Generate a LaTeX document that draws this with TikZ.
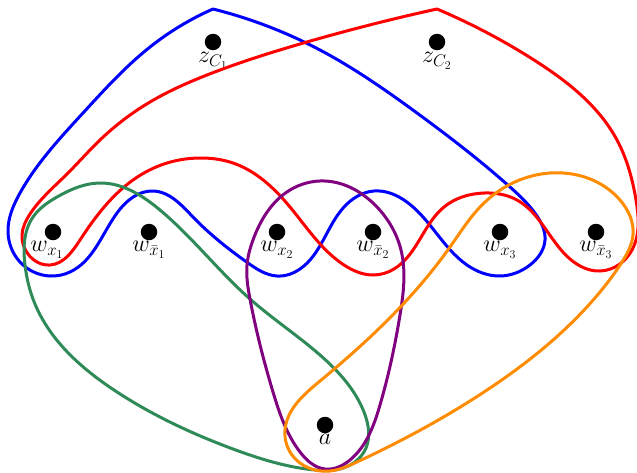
\RequirePackage{fix-cm}
\documentclass[tikz,border=0pt]{standalone}
\usetikzlibrary{positioning,hobby}
\definecolor{hgreen}{RGB}{46,139,87}
\definecolor{hpurple}{RGB}{128,0,128}
\definecolor{horange}{RGB}{255,140,0}
\tikzset{
  dot/.style={circle,fill=black,inner sep=0pt,minimum size=16.5pt},
  lab/.style={inner sep=0pt,font=\fontsize{24}{28}\selectfont,anchor=north},
  edge/.style={line width=3pt,line join=round,line cap=round}
}
\begin{document}
\begin{tikzpicture}[x=1pt,y=-1pt]
\useasboundingbox (0,0) rectangle (637,472);
% vertices
\node[dot] (zc1) at (213,42) {};
\node[dot] (zc2) at (437,42) {};
\node[dot] (wx1) at (53,232) {};
\node[dot] (wnx1) at (149,232) {};
\node[dot] (wx2) at (277,232) {};
\node[dot] (wnx2) at (373,232) {};
\node[dot] (wx3) at (500,232) {};
\node[dot] (wnx3) at (596,232) {};
\node[dot] (a) at (325,425) {};
% labels
\node[lab] (lzc1) at ([yshift=-2pt]zc1.south) {$z_{C_1}$};
\node[lab] (lzc2) at ([yshift=-2pt]zc2.south) {$z_{C_2}$};
\node[lab] (lwx1) at ([xshift=-6pt,yshift=-1pt]wx1.south) {$w_{x_1}$};
\node[lab] (lwnx1) at ([yshift=-1pt]wnx1.south) {$w_{\bar{x}_1}$};
\node[lab] (lwx2) at ([yshift=-1pt]wx2.south) {$w_{x_2}$};
\node[lab] (lwnx2) at ([yshift=-1pt]wnx2.south) {$w_{\bar{x}_2}$};
\node[lab] (lwx3) at ([yshift=-1pt]wx3.south) {$w_{x_3}$};
\node[lab] (lwnx3) at ([yshift=-1pt]wnx3.south) {$w_{\bar{x}_3}$};
\node[lab] (la) at ([yshift=-1pt]a.south) {$a$};
% blue hyperedge
\draw[edge,blue] plot[hobby] coordinates {
 (213,9) (320,50) (417,113) (510,187) (537,216) (545,240) (530,265) (500,276)
 (467,265) (404,200) (374,191) (344,207) (300,269) (277,276)
 (248,263) (193,217) (153,191) (117,213) (70,272) (50,276)
 (20,262) (8,232) (20,193) (83,113) (150,47) (213,9)};
% red hyperedge
\draw[edge,red] plot[hobby] coordinates {
 (437,9) (534,60) (617,140) (636,200) (632,250) (600,271) (570,259)
 (517,200) (484,193) (444,207) (394,269) (374,275) (344,265) (290,207)
 (233,163) (200,158) (167,163) (133,180) (80,240) (50,265) (28,254)
 (22,235) (30,214) (67,174) (100,140) (150,102) (207,75) (300,44) (437,9)};
% green hyperedge
\draw[edge,hgreen] plot[closed hobby] coordinates {
 (100,183) (160,210) (250,299) (320,355) (364,412) (366,448) (340,469)
 (315,470) (233,449) (117,392) (33,299) (25,265) (33,217) (57,197)};
% purple hyperedge
\draw[edge,hpurple] plot[closed hobby] coordinates {
 (253,240) (290,190) (325,181) (377,207) (401,250) (400,315) (380,405)
 (350,460) (325,469) (300,452) (273,392) (250,299) (247,265)};
% orange hyperedge
\draw[edge,horange] plot[closed hobby] coordinates {
 (484,203) (550,173) (620,200) (633,235) (622,262) (600,292) (484,392)
 (357,462) (330,471) (292,455) (285,430) (320,381) (450,247)};
\end{tikzpicture}
\end{document}
